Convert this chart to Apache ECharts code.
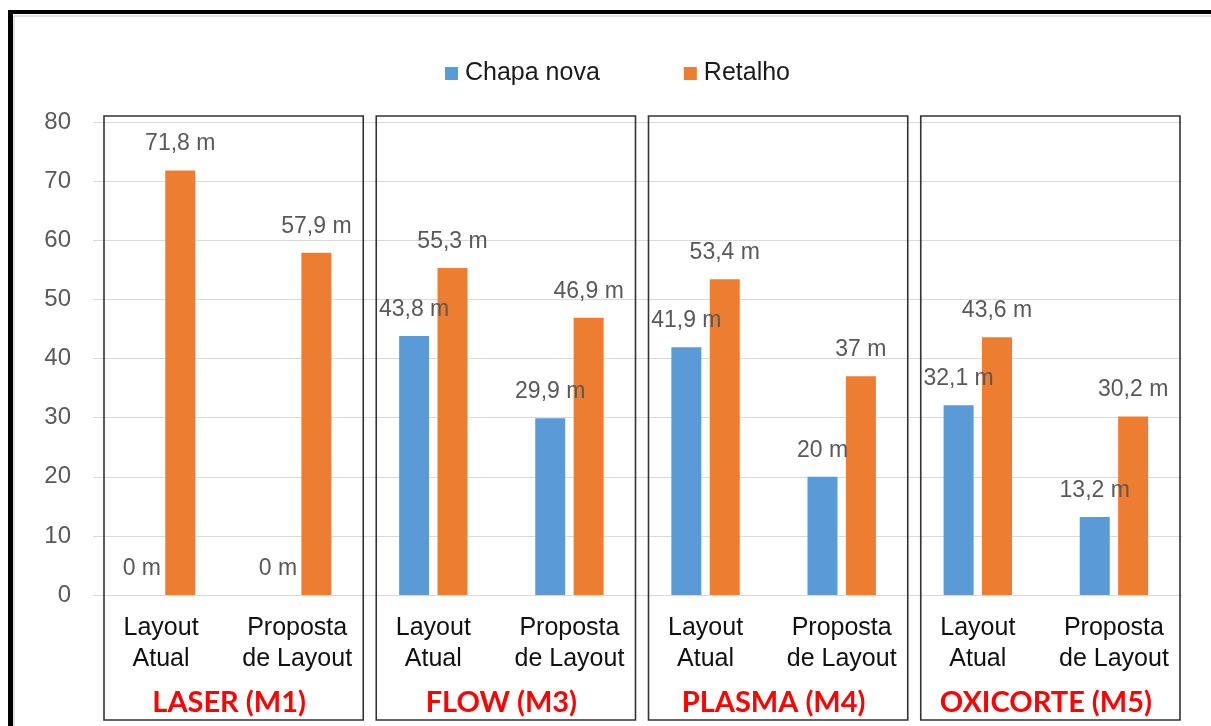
<!DOCTYPE html>
<html>
<head>
<meta charset="utf-8">
<script src="https://cdn.jsdelivr.net/npm/echarts@6/dist/echarts.min.js"></script>
<style>
html,body{margin:0;padding:0;background:#fff;}
#c{width:1211px;height:726px;}
</style>
</head>
<body>
<div id="c"></div>
<script>
var categories = ['Layout\nAtual', 'Proposta\nde Layout', 'Layout\nAtual', 'Proposta\nde Layout', 'Layout\nAtual', 'Proposta\nde Layout', 'Layout\nAtual', 'Proposta\nde Layout'];
var groups = ['LASER (M1)', 'FLOW (M3)', 'PLASMA (M4)', 'OXICORTE (M5)'];
var chapaNova = [0, 0, 43.8, 29.9, 41.9, 20, 32.1, 13.2];
var retalho = [71.8, 57.9, 55.3, 46.9, 53.4, 37, 43.6, 30.2];
var seriesNames = ['Chapa nova', 'Retalho'];
var yTicks = {min: 0, max: 80, interval: 10};

var FONT = 'Liberation Sans';
function fmt(p){ return String(p.value).replace('.', ',') + ' m'; }

var chart = echarts.init(document.getElementById('c'));
var labelStyle = {show: true, position: 'top', distance: 15, formatter: fmt, fontFamily: FONT, fontSize: 23, color: '#595959'};

chart.setOption({
  animation: false,
  textStyle: {fontFamily: FONT},
  legend: {
    left: 440, top: 56,
    itemWidth: 13, itemHeight: 13, icon: 'rect', itemGap: 84,
    textStyle: {fontFamily: FONT, fontSize: 25, color: '#1a1a1a', padding: [0, 0, 0, 2]},
    data: seriesNames
  },
  grid: {left: 93, right: 29, top: 122, bottom: 131},
  xAxis: [{
    type: 'category', data: categories,
    axisLine: {lineStyle: {color: '#d9d9d9'}},
    axisTick: {show: false},
    axisLabel: {fontFamily: FONT, fontSize: 25, color: '#111', lineHeight: 31, margin: 18, interval: 0}
  }, {
    type: 'category', data: groups, position: 'bottom', offset: 86,
    axisLine: {show: false}, axisTick: {show: false},
    axisLabel: {fontFamily: 'Lato', fontWeight: 'bold', fontSize: 29, color: '#ff0000', margin: 7, interval: 0}
  }],
  yAxis: {
    type: 'value', min: yTicks.min, max: yTicks.max, interval: yTicks.interval,
    axisLine: {show: false}, axisTick: {show: false},
    splitLine: {lineStyle: {color: '#d9d9d9', width: 1}},
    axisLabel: {fontFamily: FONT, fontSize: 24, color: '#595959', margin: 22}
  },
  series: [{
    name: seriesNames[0], type: 'bar', data: chapaNova, xAxisIndex: 0,
    barWidth: 30, barGap: '28%',
    itemStyle: {color: '#5b9bd5'}, label: labelStyle
  }, {
    name: seriesNames[1], type: 'bar', data: retalho, xAxisIndex: 0,
    barWidth: 30, barGap: '28%',
    itemStyle: {color: '#ed7d31'}, label: labelStyle
  }]
});

// decorative boxes around each group, positioned from the axis scale
var c0 = chart.convertToPixel({xAxisIndex: 0}, 0);
var c1 = chart.convertToPixel({xAxisIndex: 0}, 1);
var hw = (c1 - c0) / 2;
var yTop = chart.convertToPixel({yAxisIndex: 0}, yTicks.max) - 6;
var yBot = 720;
var gfx = [];
for (var g = 0; g < groups.length; g++) {
  var l = chart.convertToPixel({xAxisIndex: 0}, 2 * g) - hw + 11;
  var r = chart.convertToPixel({xAxisIndex: 0}, 2 * g + 1) + hw - 2;
  gfx.push({type: 'rect', shape: {x: l, y: yTop, width: r - l, height: yBot - yTop},
    style: {fill: 'none', stroke: '#333', lineWidth: 1.6}, z: 10});
}
// outer frame (thick black top/left with light inner line)
gfx.push({type: 'rect', shape: {x: 8, y: 10, width: 1211, height: 4}, style: {fill: '#000'}, z: 20});
gfx.push({type: 'rect', shape: {x: 8, y: 10, width: 5, height: 726}, style: {fill: '#000'}, z: 20});
gfx.push({type: 'line', shape: {x1: 14, y1: 16, x2: 1211, y2: 16}, style: {stroke: '#d9d9d9', lineWidth: 1.5}, z: 20});
gfx.push({type: 'line', shape: {x1: 14, y1: 16, x2: 14, y2: 726}, style: {stroke: '#d9d9d9', lineWidth: 1.5}, z: 20});
chart.setOption({graphic: gfx});
</script>
</body>
</html>
